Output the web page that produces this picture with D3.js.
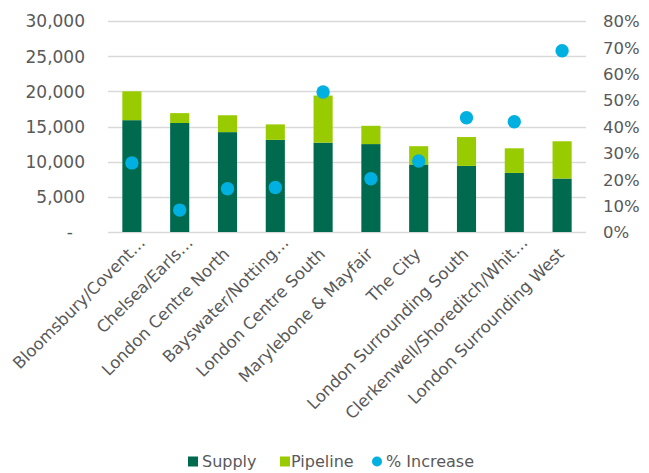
<!DOCTYPE html>
<html>
<head>
<meta charset="utf-8">
<script src="https://cdn.jsdelivr.net/npm/d3@7"></script>
<style>
  body { margin: 0; background: #fff; }
  text { font-family: "DejaVu Sans", sans-serif; fill: #595959; }
</style>
</head>
<body>
<div id="chart"></div>
<script>
// Data
var areas     = ['Bloomsbury/Covent\u2026', 'Chelsea/Earls\u2026', 'London Centre North',
                 'Bayswater/Notting\u2026', 'London Centre South', 'Marylebone & Mayfair',
                 'The City', 'London Surrounding South', 'Clerkenwell/Shoreditch/Whit\u2026',
                 'London Surrounding West'];
var supply    = [15900, 15500, 14200, 13100, 12700, 12500, 9600, 9400, 8400, 7600];
var pipeline  = [4100, 1400, 2400, 2200, 6700, 2600, 2600, 4100, 3500, 5300];
var increase  = [0.262, 0.083, 0.164, 0.169, 0.531, 0.202, 0.269, 0.433, 0.418, 0.687];
var leftTicks = [0, 5000, 10000, 15000, 20000, 25000, 30000];
var rightTicks = [0, 0.1, 0.2, 0.3, 0.4, 0.5, 0.6, 0.7, 0.8];

var chart_width  = 649;
var chart_height = 473;
var plot = {left: 108, right: 586, top: 21, bottom: 232};

var colSupply   = '#006A4E';
var colPipeline = '#99CC00';
var colDot      = '#00B0E0';

var svg = d3.select('#chart')
  .append('svg')
  .attr('width', chart_width)
  .attr('height', chart_height);

var x = d3.scaleBand()
  .domain(areas)
  .range([plot.left, plot.right])
  .paddingInner(0.6)
  .paddingOuter(0.3);

var y = d3.scaleLinear().domain([0, 30000]).range([plot.bottom, plot.top]);
var y2 = d3.scaleLinear().domain([0, 0.8]).range([plot.bottom, plot.top]);

// gridlines
svg.append('g')
  .selectAll('line')
  .data(leftTicks)
  .enter()
  .append('line')
  .attr('x1', plot.left)
  .attr('x2', plot.right)
  .attr('y1', d => Math.round(y(d)) + 0.5)
  .attr('y2', d => Math.round(y(d)) + 0.5)
  .attr('stroke', '#d9d9d9')
  .attr('stroke-width', 1.3);

// left axis
var leftAxis = d3.axisLeft(y)
  .tickValues(leftTicks)
  .tickSize(0)
  .tickPadding(0)
  .tickFormat(d => d === 0 ? '-' : d3.format(',')(d));

svg.append('g')
  .attr('transform', 'translate(85,0)')
  .call(leftAxis)
  .call(g => g.select('.domain').remove())
  .call(g => g.attr('font-family', null).attr('font-size', null))
  .selectAll('text')
  .attr('font-size', 17)
  .attr('dy', '0.35em')
  .attr('dx', d => d === 0 ? -12 : 0);

// right axis
var rightAxis = d3.axisRight(y2)
  .tickValues(rightTicks)
  .tickSize(0)
  .tickPadding(0)
  .tickFormat(d3.format('.0%'));

svg.append('g')
  .attr('transform', 'translate(603,0)')
  .call(rightAxis)
  .call(g => g.select('.domain').remove())
  .call(g => g.attr('font-family', null).attr('font-size', null))
  .selectAll('text')
  .attr('font-size', 16.5)
  .attr('dy', '0.35em');

// bars
var bars = svg.append('g');

bars.selectAll('rect.supply')
  .data(areas)
  .enter()
  .append('rect')
  .attr('class', 'supply')
  .attr('x', d => x(d))
  .attr('width', x.bandwidth())
  .attr('y', (d, i) => y(supply[i]))
  .attr('height', (d, i) => y(0) - y(supply[i]))
  .attr('fill', colSupply);

bars.selectAll('rect.pipeline')
  .data(areas)
  .enter()
  .append('rect')
  .attr('class', 'pipeline')
  .attr('x', d => x(d))
  .attr('width', x.bandwidth())
  .attr('y', (d, i) => y(supply[i] + pipeline[i]))
  .attr('height', (d, i) => y(supply[i]) - y(supply[i] + pipeline[i]))
  .attr('fill', colPipeline);

// dots
svg.append('g')
  .selectAll('circle')
  .data(areas)
  .enter()
  .append('circle')
  .attr('cx', d => x(d) + x.bandwidth() / 2)
  .attr('cy', (d, i) => y2(increase[i]))
  .attr('r', 6.7)
  .attr('fill', colDot);

// category labels (truncated ones sit a little further along)
svg.append('g')
  .selectAll('text')
  .data(areas)
  .enter()
  .append('text')
  .attr('transform', d => 'translate(' + (x(d) + x.bandwidth() / 2 + 3) + ',255) rotate(-45)')
  .attr('text-anchor', 'end')
  .attr('dx', d => d.slice(-1) === '\u2026' ? 16 : 0)
  .attr('font-size', 16.5)
  .text(d => d);

// legend
var legendItems = [
  {name: 'Supply', color: colSupply, shape: 'rect', x: 188, tx: 202},
  {name: 'Pipeline', color: colPipeline, shape: 'rect', x: 280, tx: 291},
  {name: '% Increase', color: colDot, shape: 'circle', x: 372, tx: 386}
];

var legend = svg.append('g');
legendItems.forEach(function(item) {
  if (item.shape === 'rect') {
    legend.append('rect')
      .attr('x', item.x)
      .attr('y', 456.5)
      .attr('width', 10)
      .attr('height', 10)
      .attr('fill', item.color);
  } else {
    legend.append('circle')
      .attr('cx', item.x + 5)
      .attr('cy', 461.5)
      .attr('r', 5)
      .attr('fill', item.color);
  }
  legend.append('text')
    .attr('x', item.tx)
    .attr('y', 467)
    .attr('font-size', 16)
    .text(item.name);
});
</script>
</body>
</html>
